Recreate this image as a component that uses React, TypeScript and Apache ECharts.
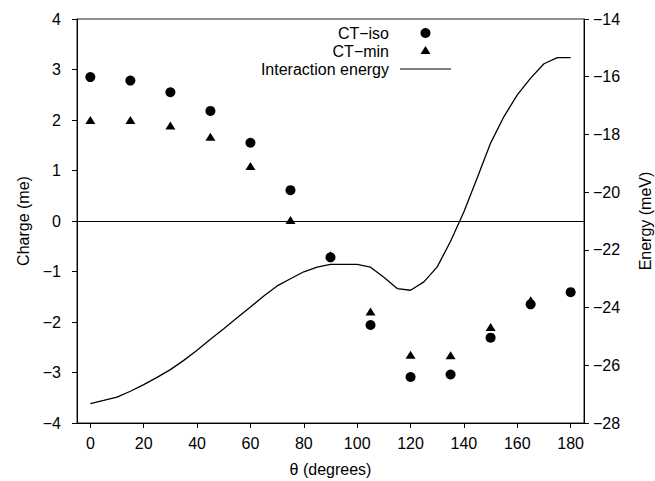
import React, { useEffect, useRef } from "react";
import * as echarts from "echarts";

const FONT = "'Liberation Sans', Arial, Helvetica, sans-serif";

// Charge data (me)
const chargeTheta = [0, 15, 30, 45, 60, 75, 90, 105, 120, 135, 150, 165, 180];
const ctIso = [2.85, 2.78, 2.55, 2.18, 1.55, 0.61, -0.72, -2.06, -3.09, -3.04, -2.31, -1.65, -1.41];
const ctMin = [2.0, 2.0, 1.89, 1.67, 1.09, 0.02, -0.68, -1.79, -2.65, -2.66, -2.1, -1.57, null];

// Interaction energy (meV)
const energyTheta = [0, 5, 10, 15, 20, 25, 30, 35, 40, 45, 50, 55, 60, 65, 70, 75, 80, 85, 90, 95, 100, 105, 110, 115, 120, 125, 130, 135, 140, 145, 150, 155, 160, 165, 170, 175, 180];
const energy = [-27.33, -27.22, -27.1, -26.9, -26.67, -26.42, -26.15, -25.83, -25.48, -25.1, -24.73, -24.35, -23.98, -23.6, -23.25, -23.0, -22.76, -22.6, -22.5, -22.5, -22.5, -22.6, -22.95, -23.34, -23.4, -23.11, -22.59, -21.7, -20.68, -19.5, -18.3, -17.38, -16.63, -16.05, -15.55, -15.34, -15.34];

const xTicks = [0, 20, 40, 60, 80, 100, 120, 140, 160, 180];

const NAME_ISO = "CT\u2212iso";
const NAME_MIN = "CT\u2212min";
const NAME_E = "Interaction energy";

const fmt = (v: number) => String(v).replace("-", "\u2212");

export default function App() {
  const ref = useRef<HTMLDivElement>(null);
  useEffect(() => {
    if (!ref.current) return;
    const chart = echarts.init(ref.current, undefined, { renderer: "svg" });
    const mkLine = () => ({ show: true, onZero: false, lineStyle: { color: "#000", width: 1 } });
    const mkTick = () => ({ show: true, length: 5, lineStyle: { color: "#000", width: 1 } });
    const labelStyle = { color: "#000", fontSize: 16, fontFamily: FONT };
    chart.setOption({
      animation: false,
      backgroundColor: "#fff",
      grid: {
        left: 77,
        right: 71,
        top: 19,
        bottom: 58,
        containLabel: false,
        outerBoundsMode: "none",
        show: true,
        borderColor: "#222",
        borderWidth: 1,
        backgroundColor: "transparent",
      },
      legend: {
        orient: "vertical",
        right: 204,
        top: 25,
        align: "right",
        itemWidth: 51,
        itemHeight: 10,
        itemGap: 2,
        padding: 0,
        selectedMode: false,
        symbolKeepAspect: true,
        textStyle: { fontSize: 16, color: "#000", fontFamily: FONT, lineHeight: 16, padding: [0, 6, 0, 0] },
        data: [
          { name: NAME_ISO, icon: "circle", itemStyle: { color: "#000", opacity: 1 } },
          { name: NAME_MIN, icon: "path://M5,0 L10,8 L0,8 Z M0,10 L0,10", itemStyle: { color: "#000", opacity: 1 } },
          { name: NAME_E, icon: "path://M0,0 L51,0 L51,1.2 L0,1.2 Z", itemStyle: { color: "#000", opacity: 1 } },
        ],
      },
      xAxis: {
        type: "value",
        min: -5,
        max: 185,
        name: "\u03b8 (degrees)",
        nameLocation: "middle",
        nameGap: 38,
        nameTextStyle: labelStyle,
        axisLine: mkLine(),
        axisTick: { ...mkTick(), customValues: xTicks },
        axisLabel: { ...labelStyle, margin: 12, customValues: xTicks, formatter: fmt },
        splitLine: { show: false },
      },
      yAxis: [
        {
          type: "value",
          min: -4,
          max: 4,
          interval: 1,
          position: "left",
          name: "Charge (me)",
          nameLocation: "middle",
          nameGap: 46,
          nameRotate: 90,
          nameTextStyle: labelStyle,
          axisLine: mkLine(),
          axisTick: mkTick(),
          axisLabel: { ...labelStyle, margin: 16, formatter: fmt },
          splitLine: { show: false },
        },
        {
          type: "value",
          min: -28,
          max: -14,
          interval: 2,
          position: "right",
          name: "Energy (meV)",
          nameLocation: "middle",
          nameGap: 53,
          nameRotate: 90,
          nameTextStyle: labelStyle,
          axisLine: mkLine(),
          axisTick: mkTick(),
          axisLabel: { ...labelStyle, margin: 9, formatter: fmt },
          splitLine: { show: false },
        },
      ],
      series: [
        {
          name: NAME_MIN,
          type: "scatter",
          yAxisIndex: 0,
          symbol: "triangle",
          symbolSize: [10, 8],
          z: 2,
          itemStyle: { color: "#000", opacity: 1 },
          data: chargeTheta.map((t, i) => (ctMin[i] === null ? null : [t, ctMin[i]])).filter((d) => d !== null),
          markLine: {
            silent: true,
            symbol: "none",
            label: { show: false },
            lineStyle: { color: "#000", width: 1, type: "solid" },
            data: [{ yAxis: 0 }],
          },
        },
        {
          name: NAME_ISO,
          type: "scatter",
          yAxisIndex: 0,
          symbol: "circle",
          symbolSize: 10,
          z: 3,
          itemStyle: { color: "#000", opacity: 1 },
          data: chargeTheta.map((t, i) => [t, ctIso[i]]),
        },
        {
          name: NAME_E,
          type: "line",
          yAxisIndex: 1,
          symbol: "none",
          showSymbol: false,
          z: 2,
          lineStyle: { color: "#000", width: 1.3 },
          itemStyle: { color: "#000" },
          data: energyTheta.map((t, i) => [t, energy[i]]),
        },
      ],
    });
    return () => chart.dispose();
  }, []);
  return (
    <div
      ref={ref}
      style={{ position: "fixed", left: 0, top: 0, width: 655, height: 481, background: "#fff" }}
    />
  );
}
